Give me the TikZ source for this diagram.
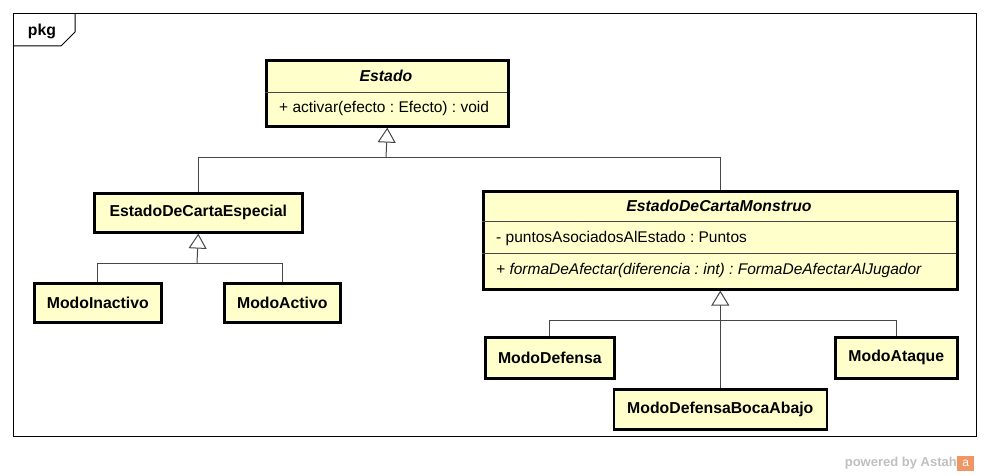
\documentclass[tikz,border=0pt]{standalone}
\usepackage{fontspec}
\setmainfont{Liberation Sans}
\usetikzlibrary{arrows.meta}
\definecolor{classfill}{RGB}{255,255,204}
\definecolor{lineclr}{RGB}{70,70,70}
\definecolor{astahorange}{RGB}{240,150,100}
\newcommand\umlsize{\fontsize{15.5}{18}\selectfont\frenchspacing}
\newcommand\umlboldsize{\fontsize{15.8}{18}\selectfont\frenchspacing}
\tikzset{
  classbox/.style={draw, line width=2.6pt, fill=classfill, inner sep=0pt, anchor=north west},
  divider/.style={draw=lineclr, line width=0.8pt},
  assoc/.style={draw=lineclr, line width=1pt},
  gen/.style={assoc, -{Triangle[open, length=15pt, width=18pt, fill=white]}},
  classname/.style={font=\umlboldsize\bfseries},
  abstractname/.style={font=\umlboldsize\bfseries\itshape},
  member/.style={anchor=west, inner sep=0pt, font=\umlsize}
}
\begin{document}
\begin{tikzpicture}[x=1pt, y=-1pt]
  \useasboundingbox (0,0) rectangle (989,476);
  % package frame
  \draw[line width=1pt] (13,14) rectangle (976,436);
  \draw[line width=1pt] (13,46) -- (61,46) -- (75,32) -- (75,14);
  \node[classname] (pkg) at (42,31) {pkg};

  % Estado
  \node[classbox, minimum width=242pt, minimum height=66pt] (estado) at (265,59) {};
  \draw[divider] (265,92) -- (507,92);
  \node[abstractname] (estado-name) at (386,76) {Estado};
  \node[member] (estado-op) at (279,108) {+ activar(efecto : Efecto) : void};

  % EstadoDeCartaEspecial and its children
  \node[classbox, classname, minimum width=208pt, minimum height=39pt] (especial) at (93,192) {EstadoDeCartaEspecial};
  \node[classbox, classname, minimum width=127pt, minimum height=39pt] (inactivo) at (33,282) {ModoInactivo};
  \node[classbox, classname, minimum width=116pt, minimum height=39pt] (activo) at (223,282) {ModoActivo};

  % EstadoDeCartaMonstruo
  \node[classbox, minimum width=474pt, minimum height=98pt] (monstruo) at (482,190) {};
  \draw[divider] (482,221) -- (956,221);
  \draw[divider] (482,253) -- (956,253);
  \node[abstractname] (monstruo-name) at (719,206) {EstadoDeCartaMonstruo};
  \node[member] (monstruo-attr) at (496,238) {- puntosAsociadosAlEstado : Puntos};
  \node[member, font=\umlsize\itshape] (monstruo-op) at (496,270) {+ formaDeAfectar(diferencia : int) : FormaDeAfectarAlJugador};

  \node[classbox, classname, minimum width=129pt, minimum height=41pt] (defensa) at (484,336) {ModoDefensa};
  \node[classbox, classname, minimum width=122pt, minimum height=41pt] (ataque) at (834,336) {ModoAtaque};
  \node[classbox, classname, minimum width=213pt, minimum height=40pt] (bocaabajo) at (612.5,388) {ModoDefensaBocaAbajo};

  % generalizations
  \coordinate (j-estado) at (386,158);
  \draw[gen] (j-estado) -- (estado.south);
  \draw[assoc] (especial.north) |- (j-estado);
  \draw[assoc] (monstruo.north) |- (j-estado);

  \coordinate (j-especial) at (197,263);
  \draw[gen] (j-especial) -- (especial.south);
  \draw[assoc] (inactivo.north) |- (j-especial);
  \draw[assoc] (activo.north) |- (j-especial);

  \coordinate (j-monstruo) at (719,320);
  \draw[gen] (bocaabajo.north) -- (monstruo.south);
  \draw[assoc] (defensa.north) |- (j-monstruo);
  \draw[assoc] (ataque.north) |- (j-monstruo);

  % footer
  \node[anchor=east, text=black!25, font=\bfseries\fontsize{13}{15}\selectfont, inner sep=0pt] (powered) at (957,463) {powered by Astah};
  \node[anchor=west, fill=astahorange, text=white, inner sep=0pt, minimum width=17pt, minimum height=15pt,
        font=\fontsize{12}{12}\selectfont] (logo) at (powered.east) {a};
\end{tikzpicture}
\end{document}
